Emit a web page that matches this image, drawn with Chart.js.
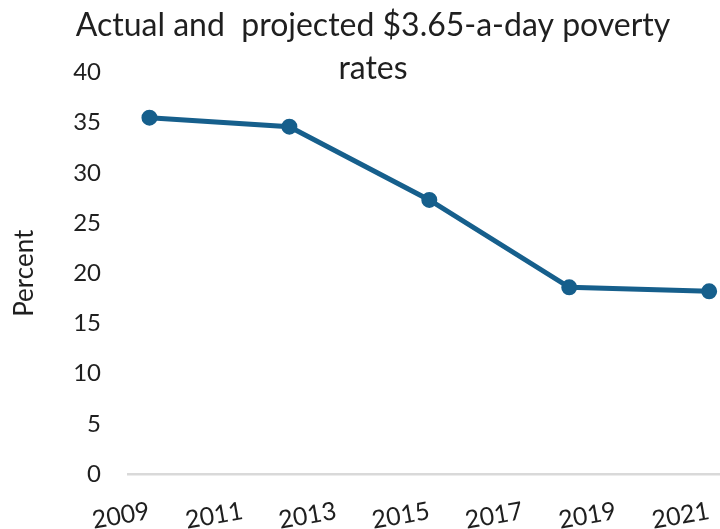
<!DOCTYPE html>
<html>
<head>
<meta charset="utf-8">
<script src="https://cdn.jsdelivr.net/npm/chart.js@4"></script>
<style>
  html, body { margin: 0; padding: 0; background: #fff; overflow: hidden; }
  #wrap { width: 720px; height: 529px; overflow: hidden; }
</style>
</head>
<body>
<div id="wrap"><canvas id="chart" width="746" height="529"></canvas></div>
<script>
// values
var YEARS = [2009, 2012, 2015, 2018, 2021];
var RATES = [35.5, 34.6, 27.3, 18.6, 18.2];
var X_TICKS = [2009, 2011, 2013, 2015, 2017, 2019, 2021];
var Y_TICKS = [0, 5, 10, 15, 20, 25, 30, 35, 40];
var TITLE = ['Actual and  projected $3.65-a-day poverty', 'rates'];

var LINE_COLOR = '#165f8c';
var TEXT_COLOR = '#1f1f1f';
var FONT = 'Lato, "Open Sans", sans-serif';

function setTicks(list) {
    return function (scale) {
        scale.ticks = list.map(function (v) { return { value: v }; });
    };
}

var points = YEARS.map(function (y, i) { return { x: y, y: RATES[i] }; });

new Chart(document.getElementById('chart'), {
    type: 'line',
    data: {
        datasets: [{
            label: 'Poverty rate',
            data: points,
            borderColor: LINE_COLOR,
            backgroundColor: LINE_COLOR,
            borderWidth: 5,
            pointRadius: 7,
            pointBorderWidth: 2,
            pointBackgroundColor: LINE_COLOR,
            pointBorderColor: LINE_COLOR,
            tension: 0,
            clip: false
        }]
    },
    options: {
        responsive: false,
        animation: false,
        layout: { padding: 0, autoPadding: false },
        plugins: {
            legend: { display: false },
            tooltip: { enabled: false },
            title: {
                display: true,
                text: TITLE,
                color: TEXT_COLOR,
                font: { family: FONT, size: 32, weight: 'normal', lineHeight: 1.32 },
                padding: { top: 5, bottom: -17 }
            }
        },
        scales: {
            x: {
                type: 'linear',
                min: 2008.54,
                max: 2021.79,
                afterBuildTicks: setTicks(X_TICKS),
                afterFit: function (scale) {
                    scale.height = 55;
                    scale.paddingLeft = 0;
                    scale.paddingRight = 0;
                },
                grid: { display: false, drawTicks: false },
                border: { display: true, color: '#d9d9d9', width: 2.5 },
                ticks: {
                    color: TEXT_COLOR,
                    font: { family: FONT, size: 25 },
                    minRotation: 10,
                    maxRotation: 10,
                    padding: 22,
                    autoSkip: false,
                    callback: function (v) { return String(v); }
                }
            },
            y: {
                min: 0,
                max: 40,
                afterBuildTicks: setTicks(Y_TICKS),
                afterFit: function (scale) { scale.width = 128; },
                grid: { display: false, drawTicks: false },
                border: { display: false },
                ticks: {
                    color: TEXT_COLOR,
                    font: { family: FONT, size: 24 },
                    padding: 27
                },
                title: {
                    display: true,
                    text: 'Percent',
                    color: TEXT_COLOR,
                    font: { family: FONT, size: 26 },
                    padding: { top: 9, bottom: 0 }
                }
            }
        }
    }
});
</script>
</body>
</html>
